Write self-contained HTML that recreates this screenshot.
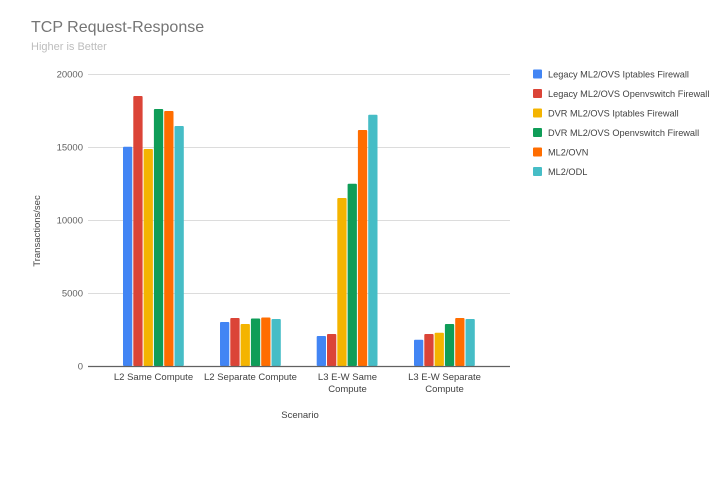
<!DOCTYPE html>
<html><head><meta charset="utf-8"><style>
body{margin:0;background:#fff;}
svg{display:block;font-family:"Liberation Sans",sans-serif;}
</style></head><body>
<svg width="724" height="502" viewBox="0 0 724 502">
<text x="31" y="32" font-size="16" fill="#757575">TCP Request-Response</text>
<text x="31" y="50" font-size="11" fill="#bdbdbd">Higher is Better</text>
<g stroke="#dcdcdc" stroke-width="1">
<line x1="88" y1="74.5" x2="510" y2="74.5"/>
<line x1="88" y1="147.5" x2="510" y2="147.5"/>
<line x1="88" y1="220.5" x2="510" y2="220.5"/>
<line x1="88" y1="293.5" x2="510" y2="293.5"/>
</g>
<g font-size="9.5" fill="#616161" text-anchor="end">
<text x="83" y="77.5">20000</text>
<text x="83" y="150.5">15000</text>
<text x="83" y="223.5">10000</text>
<text x="83" y="296.5">5000</text>
<text x="83" y="369.5">0</text>
</g>
<text transform="translate(40,231) rotate(-90)" font-size="9.5" fill="#424242" text-anchor="middle">Transactions/sec</text>
<g id="bars">
<rect x="123" y="146.7" width="9.3" height="219.3" rx="1" fill="#4285f4"/>
<rect x="133.3" y="96" width="9.3" height="270" rx="1" fill="#db4437"/>
<rect x="143.6" y="149" width="9.3" height="217" rx="1" fill="#f4b400"/>
<rect x="153.9" y="109" width="9.3" height="257" rx="1" fill="#0f9d58"/>
<rect x="164.2" y="111" width="9.3" height="255" rx="1" fill="#ff6d00"/>
<rect x="174.5" y="126" width="9.3" height="240" rx="1" fill="#46bdc6"/>
<rect x="220" y="322" width="9.3" height="44" rx="1" fill="#4285f4"/>
<rect x="230.3" y="318" width="9.3" height="48" rx="1" fill="#db4437"/>
<rect x="240.6" y="324" width="9.3" height="42" rx="1" fill="#f4b400"/>
<rect x="250.9" y="318.5" width="9.3" height="47.5" rx="1" fill="#0f9d58"/>
<rect x="261.2" y="317.5" width="9.3" height="48.5" rx="1" fill="#ff6d00"/>
<rect x="271.5" y="319" width="9.3" height="47" rx="1" fill="#46bdc6"/>
<rect x="316.7" y="336" width="9.3" height="30" rx="1" fill="#4285f4"/>
<rect x="327" y="334" width="9.3" height="32" rx="1" fill="#db4437"/>
<rect x="337.3" y="198" width="9.3" height="168" rx="1" fill="#f4b400"/>
<rect x="347.6" y="183.7" width="9.3" height="182.3" rx="1" fill="#0f9d58"/>
<rect x="357.9" y="130" width="9.3" height="236" rx="1" fill="#ff6d00"/>
<rect x="368.2" y="114.7" width="9.3" height="251.3" rx="1" fill="#46bdc6"/>
<rect x="414" y="339.7" width="9.3" height="26.3" rx="1" fill="#4285f4"/>
<rect x="424.3" y="334" width="9.3" height="32" rx="1" fill="#db4437"/>
<rect x="434.6" y="332.7" width="9.3" height="33.3" rx="1" fill="#f4b400"/>
<rect x="444.9" y="324" width="9.3" height="42" rx="1" fill="#0f9d58"/>
<rect x="455.2" y="318" width="9.3" height="48" rx="1" fill="#ff6d00"/>
<rect x="465.5" y="319" width="9.3" height="47" rx="1" fill="#46bdc6"/>
</g>
<line x1="88" y1="366.5" x2="510" y2="366.5" stroke="#616161" stroke-width="1.2"/>
<g font-size="9.5" fill="#424242" text-anchor="middle">
<text x="153.5" y="380">L2 Same Compute</text>
<text x="250.5" y="380">L2 Separate Compute</text>
<text x="347.5" y="380">L3 E-W Same</text>
<text x="347.5" y="392">Compute</text>
<text x="444.5" y="380">L3 E-W Separate</text>
<text x="444.5" y="392">Compute</text>
<text x="300" y="418">Scenario</text>
</g>
<g font-size="9.2" fill="#424242">
<rect x="533" y="69.5" width="9" height="9" rx="1" fill="#4285f4"/><text x="548" y="77.5">Legacy ML2/OVS Iptables Firewall</text>
<rect x="533" y="89" width="9" height="9" rx="1" fill="#db4437"/><text x="548" y="97">Legacy ML2/OVS Openvswitch Firewall</text>
<rect x="533" y="108.5" width="9" height="9" rx="1" fill="#f4b400"/><text x="548" y="116.5">DVR ML2/OVS Iptables Firewall</text>
<rect x="533" y="128" width="9" height="9" rx="1" fill="#0f9d58"/><text x="548" y="136">DVR ML2/OVS Openvswitch Firewall</text>
<rect x="533" y="147.5" width="9" height="9" rx="1" fill="#ff6d00"/><text x="548" y="155.5">ML2/OVN</text>
<rect x="533" y="167" width="9" height="9" rx="1" fill="#46bdc6"/><text x="548" y="175">ML2/ODL</text>
</g>
</svg>
</body></html>
